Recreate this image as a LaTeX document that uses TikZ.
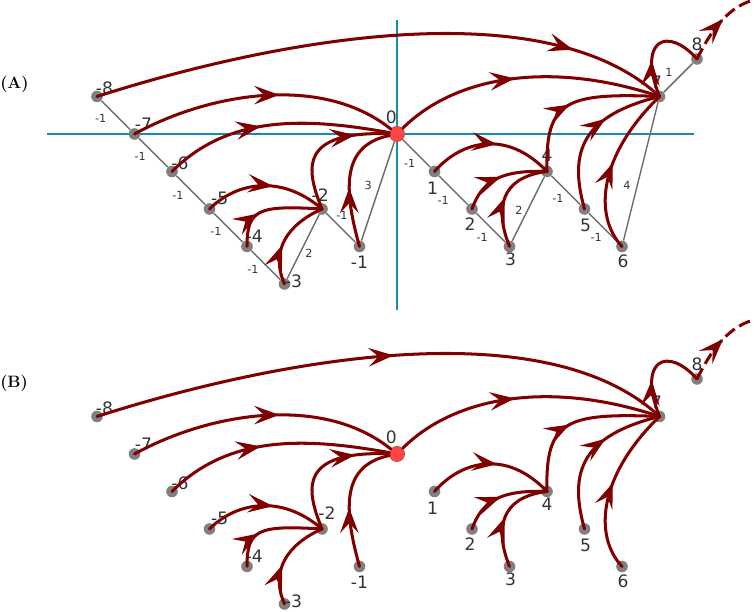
\documentclass[tikz,border=0pt]{standalone}
\usepackage{fontspec}
\setsansfont{DejaVu Sans}
\usetikzlibrary{arrows.meta,decorations.markings,backgrounds}

\definecolor{flowred}{RGB}{128,0,0}
\definecolor{axisblue}{RGB}{22,140,175}
\definecolor{dotgray}{RGB}{128,128,128}
\definecolor{edgegray}{RGB}{110,110,110}
\definecolor{rootred}{RGB}{255,70,70}

\tikzset{
  dot/.style={circle, fill=dotgray, minimum size=0.31cm, inner sep=0pt},
  root/.style={circle, fill=rootred, draw=rootred!85!black, line width=0.6pt, minimum size=0.4cm, inner sep=0pt},
  lbl/.style={font=\sffamily\fontsize{13}{13}\selectfont, text=black!80, inner sep=0pt},
  elab/.style={font=\sffamily\fontsize{8.5}{9}\selectfont, text=black!80, inner sep=0pt},
  tag/.style={anchor=west, inner sep=0pt, font=\bfseries\fontsize{12.5}{14}\selectfont},
  edge/.style={draw=edgegray, line width=1.1pt},
  axis/.style={draw=axisblue, line width=1.3pt},
  flow/.style={draw=flowred, line width=2.3pt, line cap=round},
  flowtip/.style={postaction={decorate},
    decoration={markings, mark=at position #1 with {\arrow[flowred]{Stealth[length=19pt,width=14pt,inset=7.5pt]}}}},
}

\begin{document}
\begin{tikzpicture}
  \useasboundingbox (-10.587,3.573) rectangle (9.52,-12.747);

  \node[tag] (tagA) at (-10.587,1.31) {(A)};
  \node[tag] (tagB) at (-10.587,-6.64) {(B)};

  \coordinate (axl) at (-9.33,0);
  \coordinate (axr) at (7.92,0);
  \coordinate (axt) at (0,3.04);
  \coordinate (axb) at (0,-4.69);

  % panel prefix / shift / label of 4 / label of -2 / tip on the long curve
  \foreach \p/\s/\fy/\tx/\ty/\ta in {a/0/0.43/-0.05/0.37/0.83, b/-8.533/-0.35/0.13/0.43/0.52} {
    \begin{scope}[yshift=\s cm]
      \foreach \n/\x/\y in {m8/-8/1, m7/-7/0, m6/-6/-1, m5/-5/-2, m4/-4/-3, m3/-3/-4, m2/-2/-2, m1/-1/-3,
                            p1/1/-1, p2/2/-2, p3/3/-3, p4/4/-1, p5/5/-2, p6/6/-3, p7/7/1, p8/8/2}
        \node[dot] (\p\n) at (\x,\y) {};
      \node[root] (\p n0) at (0,0) {};
      \coordinate (\p out) at (9.5,3.57);
    \end{scope}

    \foreach \n/\t/\dx/\dy in {m8/-8/0.2/0.21, m7/-7/0.24/0.27, m6/-6/0.21/0.22, m5/-5/0.27/0.29,
                               m4/-4/0.19/0.27, m3/-3/0.24/0.06, m1/-1/0/-0.43, n0/0/-0.15/0.45,
                               p1/1/-0.05/-0.45, p2/2/-0.05/-0.4, p3/3/0.03/-0.35, p5/5/0.03/-0.43,
                               p6/6/0.03/-0.4, p7/7/-0.08/0.39, p8/8/0/0.4}
      \node[lbl] (\p\n l) at ([shift={(\dx,\dy)}]\p\n) {\t};
    \node[lbl] (\p m2l) at ([shift={(\tx,\ty)}]\p m2) {-2};
    \node[lbl] (\p p4l) at ([shift={(0,\fy)}]\p p4) {4};

    \begin{scope}[yshift=\s cm]
      \draw[flow, flowtip=\ta] (\p m8.center) .. controls (-3,2.6) and (4,3.8) .. (\p p7.center);
      \draw[flow, flowtip=0.56] (\p m7.center) .. controls (-5,1.1) and (-2,1.6) .. (\p n0);
      \draw[flow, flowtip=0.44] (\p m6.center) .. controls (-4.5,0.5) and (-2.5,0.45) .. (\p n0);
      \draw[flow, flowtip=0.75] (\p m2.center) .. controls (-2.45,-0.9) and (-2.6,0.08) .. (\p n0);
      \draw[flow, flowtip=0.45] (\p m1.center) .. controls (-1.45,-1.4) and (-1.45,-0.3) .. (\p n0);
      \draw[flow, flowtip=0.56] (\p m5.center) .. controls (-4.3,-1.3) and (-3.1,-1.05) .. (\p m2.center);
      \draw[flow, flowtip=0.36] (\p m4.center) .. controls (-4,-2.0) and (-3.7,-1.9) .. (\p m2.center);
      \draw[flow, flowtip=0.42] (\p m3.center) .. controls (-3.4,-3.1) and (-2.9,-2.4) .. (\p m2.center);
      \draw[flow, flowtip=0.46] (\p n0) .. controls (1.5,1.5) and (4,2.0) .. (\p p7.center);
      \draw[flow, flowtip=0.55] (\p p1.center) .. controls (1.7,-0.2) and (2.9,0.15) .. (\p p4.center);
      \draw[flow, flowtip=0.49] (\p p2.center) .. controls (2.25,-1.3) and (2.7,-0.95) .. (\p p4.center);
      \draw[flow, flowtip=0.49] (\p p3.center) .. controls (2.6,-2.0) and (2.75,-1.15) .. (\p p4.center);
      \draw[flow, flowtip=0.45] (\p p4.center) .. controls (3.95,0.9) and (4.5,1.1) .. (\p p7.center);
      \draw[flow, flowtip=0.63] (\p p5.center) .. controls (4.55,-0.4) and (5.0,0.5) .. (\p p7.center);
      \draw[flow, flowtip=0.52] (\p p6.center) .. controls (5.25,-2.2) and (5.35,-0.6) .. (\p p7.center);
      \draw[flow, flowtip=0.37] (\p p7.center) .. controls (6.4,2.5) and (7.2,2.9) .. (\p p8.center);
      \draw[flow, line cap=butt, dash pattern=on 9pt off 4pt, flowtip=0.57]
        (\p p8.center) .. controls (8.25,2.5) and (8.7,3.35) .. (\p out);
    \end{scope}
  }

  % axes and path steps, panel A only
  \begin{scope}[on background layer]
    \draw[axis] (axl) -- (axr);
    \draw[axis] (axt) -- (axb);
    \foreach \a/\b/\w/\dx/\dy in {m8/m7/-1/-0.4/-0.08, m7/m6/-1/-0.35/-0.11, m6/m5/-1/-0.34/-0.13,
                                  m5/m4/-1/-0.33/-0.11, m4/m3/-1/-0.34/-0.1, m3/m2/2/0.15/-0.17,
                                  m2/m1/-1/0.03/0.34, m1/n0/3/-0.26/0.14, n0/p1/-1/-0.18/-0.27,
                                  p1/p2/-1/-0.27/-0.26, p2/p3/-1/-0.23/-0.25, p3/p4/2/-0.25/-0.03,
                                  p4/p5/-1/-0.21/-0.21, p5/p6/-1/-0.19/-0.27, p6/p7/4/-0.37/-0.36,
                                  p7/p8/1/-0.25/0.15}
      \draw[edge] (a\a) -- node[elab, xshift=\dx cm, yshift=\dy cm] {\w} (a\b);
  \end{scope}
\end{tikzpicture}
\end{document}
